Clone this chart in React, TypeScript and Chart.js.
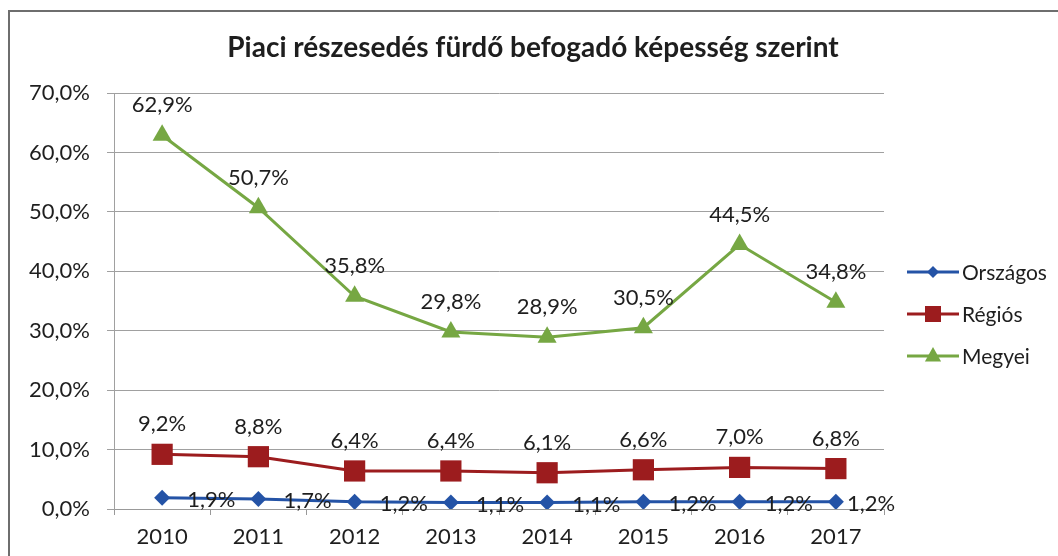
import React, { useEffect, useRef } from "react";
import { Chart, registerables } from "chart.js";

Chart.register(...registerables);

const titleText = "Piaci részesedés fürdő befogadó képesség szerint";
const years = ["2010", "2011", "2012", "2013", "2014", "2015", "2016", "2017"];
const orszagos = [1.9, 1.7, 1.2, 1.1, 1.1, 1.2, 1.2, 1.2];
const regios = [9.2, 8.8, 6.4, 6.4, 6.1, 6.6, 7.0, 6.8];
const megyei = [62.9, 50.7, 35.8, 29.8, 28.9, 30.5, 44.5, 34.8];
const seriesNames = ["Országos", "Régiós", "Megyei"];

const FONT = "Lato, 'Open Sans', sans-serif";
const BLUE = "#2453a6";
const RED = "#9c1c1e";
const GREEN = "#76a743";
const TEXT = "#1e1e1e";

const fmt = (v: number) => v.toFixed(1).replace(".", ",") + "%";

function drawMarker(ctx: CanvasRenderingContext2D, kind: string, x: number, y: number, s: number, color: string) {
  ctx.save();
  ctx.fillStyle = color;
  ctx.beginPath();
  if (kind === "diamond") {
    ctx.moveTo(x, y - s);
    ctx.lineTo(x + s, y);
    ctx.lineTo(x, y + s);
    ctx.lineTo(x - s, y);
  } else if (kind === "square") {
    ctx.rect(x - s, y - s, 2 * s, 2 * s);
  } else {
    ctx.moveTo(x, y - s);
    ctx.lineTo(x + s * 0.9, y + s * 0.6);
    ctx.lineTo(x - s * 0.9, y + s * 0.6);
  }
  ctx.closePath();
  ctx.fill();
  ctx.restore();
}

const extrasPlugin = {
  id: "extras",
  beforeDraw(chart: any) {
    const ctx = chart.ctx;
    ctx.save();
    ctx.fillStyle = "#fff";
    ctx.fillRect(0, 0, chart.width, chart.height);
    ctx.strokeStyle = "#6e6e6e";
    ctx.lineWidth = 2;
    ctx.beginPath();
    ctx.moveTo(9, chart.height);
    ctx.lineTo(9, 11);
    ctx.lineTo(chart.width, 11);
    ctx.stroke();
    // title
    ctx.fillStyle = TEXT;
    ctx.font = `bold 28px ${FONT}`;
    ctx.textAlign = "center";
    ctx.textBaseline = "middle";
    ctx.fillText(titleText, 533, 48);
    ctx.restore();
  },
  afterDatasetsDraw(chart: any) {
    const ctx = chart.ctx;
    ctx.save();
    ctx.font = `22px ${FONT}`;
    ctx.fillStyle = TEXT;
    chart.data.datasets.forEach((ds: any, di: number) => {
      const meta = chart.getDatasetMeta(di);
      const n = meta.data.length;
      meta.data.forEach((pt: any, i: number) => {
        const label = fmt(ds.data[i]);
        ctx.textBaseline = "middle";
        if (di === 0) {
          ctx.textAlign = "left";
          ctx.fillText(label, pt.x + (i === n - 1 ? 11 : 25), pt.y + 2);
        } else {
          ctx.textAlign = "center";
          ctx.fillText(label, pt.x, pt.y - 30);
        }
      });
    });
    // legend
    const colors = [BLUE, RED, GREEN];
    const kinds = ["diamond", "square", "triangle"];
    const sizes = [6, 8, 9];
    const ys = [272, 314, 356];
    ctx.font = `21px ${FONT}`;
    ctx.textAlign = "left";
    ctx.textBaseline = "middle";
    seriesNames.forEach((name, i) => {
      ctx.strokeStyle = colors[i];
      ctx.lineWidth = 3;
      ctx.beginPath();
      ctx.moveTo(907, ys[i]);
      ctx.lineTo(959, ys[i]);
      ctx.stroke();
      drawMarker(ctx, kinds[i], 933, ys[i], sizes[i], colors[i]);
      ctx.fillStyle = TEXT;
      ctx.fillText(name, 962, ys[i] + 1);
    });
    ctx.restore();
  },
};

export default function App() {
  const ref = useRef<HTMLCanvasElement | null>(null);
  useEffect(() => {
    if (!ref.current) return;
    const chart = new Chart(ref.current, {
      type: "line",
      data: {
        labels: years,
        datasets: [
          {
            label: seriesNames[0],
            data: orszagos,
            borderColor: BLUE,
            backgroundColor: BLUE,
            borderWidth: 3,
            pointStyle: "rectRot",
            pointRadius: 8,
            pointBorderWidth: 0,
          },
          {
            label: seriesNames[1],
            data: regios,
            borderColor: RED,
            backgroundColor: RED,
            borderWidth: 3,
            pointStyle: "rect",
            pointRadius: 15,
            pointBorderWidth: 0,
          },
          {
            label: seriesNames[2],
            data: megyei,
            borderColor: GREEN,
            backgroundColor: GREEN,
            borderWidth: 3,
            pointStyle: "triangle",
            pointRadius: 11,
            pointBorderWidth: 0,
          },
        ],
      },
      options: {
        animation: false,
        responsive: false,
        layout: { padding: { left: 0, right: 174, top: 93, bottom: 0 } },
        plugins: {
          legend: { display: false },
          tooltip: { enabled: false },
          title: { display: false },
        },
        scales: {
          x: {
            offset: true,
            grid: {
              display: true,
              offset: true,
              drawOnChartArea: false,
              drawTicks: true,
              tickLength: 6,
              color: "#999",
            },
            border: { display: true, color: "#999" },
            ticks: { color: TEXT, font: { family: FONT, size: 22 }, padding: 9 },
            afterFit: (s: any) => {
              s.height = 47;
            },
          },
          y: {
            min: 0,
            max: 70,
            ticks: {
              stepSize: 10,
              color: TEXT,
              font: { family: FONT, size: 22 },
              padding: 17,
              callback: (v: any) => fmt(Number(v)),
            },
            grid: { color: "#a0a0a0", tickLength: 7 },
            border: { display: true, color: "#a0a0a0" },
            afterFit: (s: any) => {
              s.width = 114;
            },
          },
        },
      },
      plugins: [extrasPlugin],
    });
    return () => chart.destroy();
  }, []);
  return (
    <div style={{ position: "absolute", left: 0, top: 0, width: 1058, height: 556 }}>
      <canvas ref={ref} width={1058} height={556} style={{ display: "block", width: 1058, height: 556 }} />
    </div>
  );
}
